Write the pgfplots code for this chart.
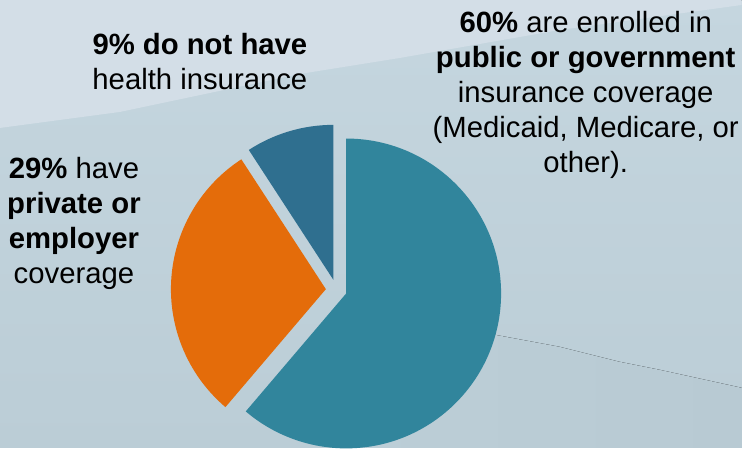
\documentclass[border=0pt]{standalone}
\usepackage{fontspec}
\setmainfont{Liberation Sans}
\usepackage{pgfplots}
\pgfplotsset{compat=1.18}
\usepackage{pgfplotstable}
\definecolor{cteal}{HTML}{31859C}
\definecolor{corange}{HTML}{E46C0A}
\definecolor{cdark}{HTML}{2F6F8F}
\definecolor{bglight}{HTML}{D3DEE7}
\definecolor{bgmidtop}{HTML}{C5D6DF}
\definecolor{bgbottom}{HTML}{BBCDD6}
\definecolor{bgband}{HTML}{B8CAD3}
\definecolor{bgbandl}{HTML}{BCCED7}

\pgfplotstableread{
label share
public 60
private 29
none 9
}\piedata

\newcommand\fs{\fontsize{29.3}{35}\selectfont}

\begin{document}
\begin{tikzpicture}
\pgfplotstablegetelem{0}{share}\of\piedata \edef\va{\pgfplotsretval}
\pgfplotstablegetelem{1}{share}\of\piedata \edef\vb{\pgfplotsretval}
\pgfplotstablegetelem{2}{share}\of\piedata \edef\vc{\pgfplotsretval}
\pgfmathsetmacro\tot{\va+\vb+\vc}
\pgfmathsetmacro\sA{90}
\pgfmathsetmacro\eA{\sA-360*(\va/\tot)}
\pgfmathsetmacro\eB{\eA-360*(\vb/\tot)}
\pgfmathsetmacro\eC{\eB-360*(\vc/\tot)}
\def\cx{336.5}\def\cy{158}\def\rr{155}\def\ex{10.5}
\newcommand\slice[3]{\fill[#3] (axis cs:{\cx+\ex*cos((#1+#2)/2)},{\cy+\ex*sin((#1+#2)/2)}) -- ++(#1:\rr pt) arc[start angle=#1, end angle=#2, radius=\rr pt] -- cycle;}
\begin{axis}[x=1pt,y=1pt,xmin=0,xmax=742,ymin=0,ymax=448,hide axis,clip=false]
% background
\fill[top color=bgmidtop, bottom color=bgbottom] (axis cs:0,0) rectangle (axis cs:742,448);
\fill[bglight] (axis cs:0,448) -- (axis cs:742,448) -- (axis cs:742,443) -- (axis cs:560,418) -- (axis cs:400,390) -- (axis cs:300,374) -- (axis cs:120,336) -- (axis cs:0,320) -- cycle;
\fill[left color=bgbandl, right color=bgband] (axis cs:490,114) -- (axis cs:560,101) -- (axis cs:620,86) -- (axis cs:660,78) -- (axis cs:742,60) -- (axis cs:742,0) -- (axis cs:352,0) -- (axis cs:410,18) -- (axis cs:450,48) -- (axis cs:478,78) -- cycle;
% pie
\slice{\sA}{\eA}{cteal}
\slice{\eA}{\eB}{corange}
\slice{\eB}{\eC}{cdark}
% labels
\node[anchor=base, font=\fs] at (axis cs:200,393) {\textbf{9\% do not have}};
\node[anchor=base, font=\fs] at (axis cs:200,358) {health insurance};
\node[anchor=base, font=\fs] at (axis cs:586,415) {\textbf{60\%} are enrolled in};
\node[anchor=base, font=\fs] at (axis cs:586,380) {\textbf{public or government}};
\node[anchor=base, font=\fs] at (axis cs:586,345) {insurance coverage};
\node[anchor=base, font=\fs] at (axis cs:586,310) {(Medicaid, Medicare, or};
\node[anchor=base, font=\fs] at (axis cs:586,275) {other).};
\node[anchor=base, font=\fs] at (axis cs:74,269) {\textbf{29\%} have};
\node[anchor=base, font=\fs] at (axis cs:74,234) {\textbf{private or}};
\node[anchor=base, font=\fs] at (axis cs:74,199) {\textbf{employer}};
\node[anchor=base, font=\fs] at (axis cs:74,164) {coverage};
\end{axis}
\end{tikzpicture}
\end{document}
